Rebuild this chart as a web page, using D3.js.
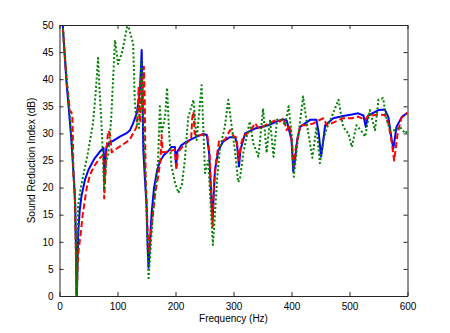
<!DOCTYPE html>
<html>
<head>
<meta charset="utf-8">
<script src="https://cdn.jsdelivr.net/npm/d3@7"></script>
<style>
  html, body { margin: 0; padding: 0; background: #fff; }
  svg { display: block; }
  text { font-family: "Liberation Sans", Arial, Helvetica, sans-serif; }
</style>
</head>
<body>
<div id="chart"></div>
<script>
// ---- data ----
const xTicks = [0, 100, 200, 300, 400, 500, 600];
const yTicks = [0, 5, 10, 15, 20, 25, 30, 35, 40, 45, 50];
const xLabel = "Frequency (Hz)";
const yLabel = "Sound Reduction Index (dB)";

// Blue solid series
const blueFreq = [5, 8, 12, 16, 20, 23, 25, 27, 28.5, 29.5, 31, 32.5, 35, 38, 44, 50, 60, 70, 76, 77.5, 79, 81, 87, 98, 104, 115, 121.6, 127, 133, 136, 139, 141.7, 143, 144.5, 147, 150, 152, 153.5, 155, 157, 159, 163, 168, 173, 180, 188, 193, 199, 201, 203, 210, 219, 236.5, 248, 254, 258, 262, 264, 266, 268, 274, 282, 294, 303, 306, 309.5, 312, 320, 337, 360, 377, 386, 392, 400, 403, 406, 410, 415, 432, 443, 447, 451, 454, 458, 472, 489, 504, 515, 524, 528, 532, 550, 561, 567, 572.8, 575.6, 581, 590, 600];
const blueSRI = [51, 46, 39.5, 34.5, 29.5, 24.5, 21, 17, 8, -2, 6, 12, 16, 18.5, 21.5, 23.3, 25.3, 26.7, 27.3, 21.5, 25, 27.5, 28.3, 29, 29.4, 30, 30.6, 31.9, 33.7, 35.6, 38.5, 45.4, 38, 27, 22, 17, 9, 5.2, 8, 12, 15.5, 20, 23, 24.8, 26, 26.8, 27.5, 27.5, 24, 26.6, 27.8, 28.5, 29.4, 29.9, 29.7, 26.3, 17.7, 14, 19, 23.2, 26.9, 28.5, 29.3, 29.3, 28, 23.9, 27, 30, 30.9, 31.5, 32.3, 32.6, 32.3, 28.8, 23, 25, 29, 31.2, 32.5, 32.5, 30, 25.7, 28, 31.5, 32.8, 33.2, 33.5, 33.7, 33.3, 31.2, 33.3, 34.3, 34.4, 33, 28.8, 27.2, 31.2, 33, 33.8];

// Red dashed series
const redFreq = [5, 8, 12, 16, 18, 20, 22, 23, 24, 26, 28, 29.5, 31, 33, 36, 40, 47, 53, 60, 70, 76, 77, 79, 81, 84, 87, 90, 100, 110, 121, 127, 133, 135, 136.5, 138, 139.5, 141.5, 143, 145.5, 147, 148.5, 150, 152, 154.5, 157, 160, 165, 170, 174, 176, 178, 190, 199, 201.5, 204, 210, 220, 227, 229, 231, 233, 236, 248, 255, 259, 262, 264, 266, 270, 275, 285, 294, 300, 305, 309.5, 313, 317, 330, 337, 343, 350, 360, 374, 380, 386, 391.5, 397, 401, 403.5, 407, 415, 426, 437, 449, 455, 461, 472, 489, 504, 515, 527, 532, 550, 561, 567, 573, 577, 583, 590, 600];
const redSRI = [51, 46, 40, 36, 34, 34, 33.5, 30, 22, 20, 10, -2, 5, 8.5, 11, 15, 20, 22.5, 24, 25.5, 26, 18, 22, 27, 30.5, 30, 26.5, 27.3, 28, 28.8, 30, 31.2, 34, 38.6, 33, 32, 40.5, 34.5, 42.3, 36, 22, 18, 12, 8, 11, 14, 19, 22, 25, 29.7, 26.5, 26.7, 27, 23.2, 26.5, 27.3, 28.3, 29, 33, 34, 30, 29.5, 29.8, 29.5, 26, 17, 12.8, 20, 25, 28.5, 28.8, 30.6, 29.5, 29.2, 25, 28, 29.5, 30.5, 31.9, 31, 31.2, 31.8, 32.5, 32.2, 32.8, 30.6, 31.5, 28, 24, 27, 31.5, 31.5, 31.8, 32.5, 32.8, 31.5, 32, 32.8, 32.8, 33.1, 32.5, 33.2, 33.5, 33.4, 31.9, 28.2, 25, 30, 33, 33.8];

// Green dotted series
const greenFreq = [5, 8, 10, 14, 18, 22, 25, 27, 28.5, 29.8, 31, 32, 36, 40.5, 49, 57.8, 62, 66.5, 69, 72, 75.6, 77, 79, 81, 84, 89, 95.7, 101, 108, 117.5, 122, 127, 130, 134, 137, 141, 143, 145, 148, 151, 153.5, 156, 159, 162, 167, 170, 173, 176, 182, 185.5, 189, 193, 199, 205, 211, 216, 222, 231, 236.5, 245, 251, 256.5, 261, 264.5, 268, 272, 277, 285, 291, 297, 303, 308, 311, 317, 328, 334, 343, 351, 357, 363, 369, 375, 383, 389, 395, 400, 404, 410, 420, 429, 436, 443, 449, 455, 461, 469, 481, 489, 498, 504, 512, 520, 527, 535, 544, 550, 558, 564, 570, 578, 587, 596, 600];
const greenSRI = [51, 46, 43.5, 38, 33, 27, 21, 17, 8, -2, 8, 16.5, 19.5, 22, 26.4, 31.9, 37, 43.9, 38, 32.5, 24, 19.5, 23, 25, 26, 32.5, 47.2, 42.8, 45, 50.2, 48.5, 46.6, 35.3, 31.5, 31, 43.5, 38, 30, 22, 12, 3.3, 7, 12, 16.5, 21.8, 25, 35, 30, 33, 38.4, 30, 24, 21, 19, 20.5, 25, 33, 36.2, 28.8, 38.9, 22.7, 25, 16, 9.4, 15, 22, 27.5, 31.2, 36.2, 31.2, 26.4, 21, 21.5, 26.4, 32.2, 28.2, 25.7, 34.6, 26.4, 32.5, 25.7, 32.5, 32.5, 31.5, 35, 30, 22, 28, 36.8, 30, 25.5, 31.2, 24.5, 29, 31, 33, 36.2, 31.2, 30, 27.5, 31.5, 30.5, 29.4, 34.3, 30.6, 36.2, 36.5, 32.5, 30.6, 30.6, 31.2, 30, 30.5];

// ---- layout ----
const W = 450, H = 333;
const mLeft = 59.5, mRight = 407.5, mTop = 25, mBottom = 296;

const svg = d3.select("#chart").append("svg")
  .attr("width", W).attr("height", H);

const x = d3.scaleLinear().domain([0, 600]).range([mLeft, mRight]);
const y = d3.scaleLinear().domain([0, 50]).range([mBottom, mTop]);

svg.append("defs").append("clipPath").attr("id", "plotclip")
  .append("rect").attr("x", mLeft).attr("y", mTop)
  .attr("width", mRight - mLeft).attr("height", mBottom - mTop);

const line = d3.line().x(d => x(d[0])).y(d => y(d[1]));
const plot = svg.append("g").attr("clip-path", "url(#plotclip)");

const series = [
  { f: blueFreq, v: blueSRI, color: "#0000ff", dash: null, w: 2 },
  { f: redFreq, v: redSRI, color: "#ff0000", dash: "6,3", w: 2 },
  { f: greenFreq, v: greenSRI, color: "#007f00", dash: "2,2.2", w: 2 }
];
series.forEach(s => {
  plot.append("path")
    .datum(s.f.map((f, i) => [f, s.v[i]]))
    .attr("fill", "none")
    .attr("stroke", s.color)
    .attr("stroke-width", s.w)
    .attr("stroke-linejoin", "round")
    .attr("stroke-dasharray", s.dash)
    .attr("d", line);
});

// axes (MATLAB style: ticks inside, box)
const axColor = "#262626";
const fontSize = 10;

const xAxisB = d3.axisBottom(x).tickValues(xTicks).tickSizeInner(-4).tickSizeOuter(0).tickPadding(7);
const xAxisT = d3.axisTop(x).tickValues(xTicks).tickSizeInner(-4).tickSizeOuter(0).tickFormat("");
const yAxisL = d3.axisLeft(y).tickValues(yTicks).tickSizeInner(-4).tickSizeOuter(0).tickPadding(6);
const yAxisR = d3.axisRight(y).tickValues(yTicks).tickSizeInner(-4).tickSizeOuter(0).tickFormat("");

function styleAxis(g) {
  g.selectAll("path").attr("stroke", axColor);
  g.selectAll("line").attr("stroke", axColor);
  g.selectAll("text").attr("fill", "#000").attr("font-size", fontSize)
    .attr("font-family", "Liberation Sans, Arial, sans-serif");
}

svg.append("g").attr("transform", `translate(0,${mBottom})`).call(xAxisB).call(styleAxis);
svg.append("g").attr("transform", `translate(0,${mTop})`).call(xAxisT).call(styleAxis);
svg.append("g").attr("transform", `translate(${mLeft},0)`).call(yAxisL).call(styleAxis);
svg.append("g").attr("transform", `translate(${mRight},0)`).call(yAxisR).call(styleAxis);

svg.append("text")
  .attr("x", (mLeft + mRight) / 2).attr("y", 322)
  .attr("text-anchor", "middle").attr("font-size", fontSize).attr("fill", "#000")
  .text(xLabel);

svg.append("text")
  .attr("transform", `translate(35,${(mTop + mBottom) / 2}) rotate(-90)`)
  .attr("text-anchor", "middle").attr("font-size", fontSize).attr("fill", "#000")
  .text(yLabel);
</script>
</body>
</html>
